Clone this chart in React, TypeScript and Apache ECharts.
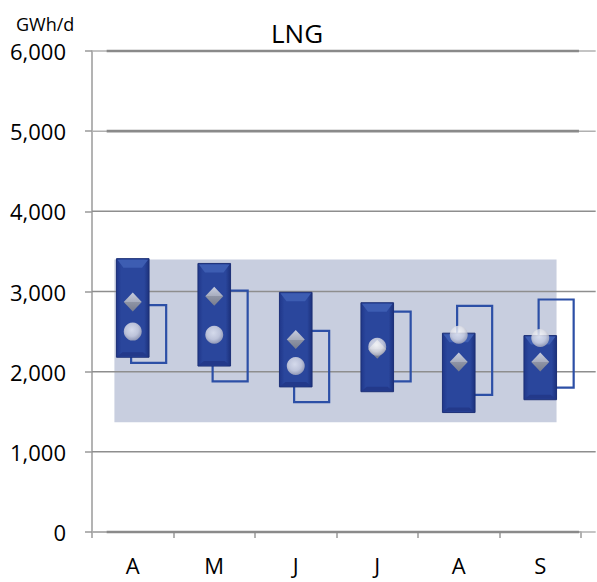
import React, { useEffect, useRef } from "react";
import * as echarts from "echarts";

const categories = ["A", "M", "J", "J", "A", "S"];
const yTicks = [0, 1000, 2000, 3000, 4000, 5000, 6000];
const heavyLines = [0, 5000, 6000];
const filledHigh = [3410, 3350, 2990, 2860, 2480, 2450];
const filledLow = [2180, 2070, 1810, 1750, 1490, 1650];
const outlineHigh = [2830, 3010, 2510, 2750, 2820, 2900];
const outlineLow = [2110, 1880, 1620, 1880, 1710, 1800];
const diamondValues = [2870, 2940, 2400, 2280, 2120, 2120];
const circleValues = [2500, 2460, 2070, 2310, 2460, 2420];
const bandRange = [1370, 3400];

const FONT = "'Open Sans', 'Noto Sans', sans-serif";

export default function App() {
  const ref = useRef<HTMLDivElement>(null);
  useEffect(() => {
    document.body.style.margin = "0";
    if (!ref.current) return;
    const chart = echarts.init(ref.current, null, { renderer: "svg" });
    const last = categories.length - 1;

    const option: any = {
      animation: false,
      backgroundColor: "#ffffff",
      title: [
        {
          text: "LNG",
          left: 266,
          top: 15,
          textStyle: { fontFamily: FONT, fontSize: 26, fontWeight: "normal", color: "#000" },
        },
        {
          text: "GWh/d",
          left: 11,
          top: 10,
          textStyle: { fontFamily: FONT, fontSize: 18, fontWeight: "normal", color: "#000" },
        },
      ],
      grid: { left: 92, right: 16, top: 51, bottom: 50, containLabel: false },
      xAxis: {
        type: "category",
        data: categories,
        boundaryGap: true,
        axisLine: { show: true, lineStyle: { color: "#9a9a9a", width: 1.5 } },
        axisTick: { show: true, length: 6, lineStyle: { color: "#9a9a9a", width: 1.5 } },
        axisLabel: { fontFamily: FONT, fontSize: 22, color: "#000", margin: 22 },
        splitLine: { show: false },
      },
      yAxis: {
        type: "value",
        min: 0,
        max: 6000,
        interval: 1000,
        axisLine: { show: true, lineStyle: { color: "#9a9a9a", width: 1.5 } },
        axisTick: { show: true, length: 7, lineStyle: { color: "#9a9a9a", width: 1.5 } },
        axisLabel: {
          fontFamily: FONT,
          fontSize: 22,
          color: "#000",
          margin: 26,
          formatter: (v: number) => v.toLocaleString("en-US"),
        },
        splitLine: { show: false },
      },
      series: [
        {
          type: "custom",
          name: "band",
          z: 1,
          clip: false,
          encode: { x: 0, y: 2 },
          data: [[0, last, bandRange[0], bandRange[1]]],
          renderItem: (params: any, api: any) => {
            const bw = api.size([1, 0])[0];
            const p1 = api.coord([api.value(0), api.value(3)]);
            const p2 = api.coord([api.value(1), api.value(2)]);
            const x = p1[0] - bw * 0.225;
            return {
              type: "rect",
              shape: { x, y: p1[1], width: p2[0] + bw * 0.2 - x, height: p2[1] - p1[1] },
              style: { fill: "#c8cedf" },
            };
          },
        },
        {
          type: "custom",
          name: "gridlines",
          z: 2,
          clip: false,
          encode: { x: 0, y: 1 },
          data: yTicks.map((v) => [0, v, heavyLines.includes(v) ? 1 : 0]),
          renderItem: (params: any, api: any) => {
            const v = api.value(1);
            const heavy = api.value(2) === 1;
            const bw = api.size([1, 0])[0];
            const c0 = api.coord([0, v]);
            const c5 = api.coord([last, v]);
            const children: any[] = [
              {
                type: "line",
                shape: { x1: c0[0] - bw / 2, y1: c0[1], x2: c5[0] + bw * 0.68, y2: c0[1] },
                style: { stroke: heavy ? "#b0b0b0" : "#8e8e8e", lineWidth: 1.5 },
              },
            ];
            if (heavy) {
              children.push({
                type: "line",
                shape: { x1: c0[0] - bw * 0.32, y1: c0[1], x2: c5[0] + bw * 0.475, y2: c0[1] },
                style: { stroke: "#8a8a8a", lineWidth: 2.6 },
              });
            }
            return { type: "group", children };
          },
        },
        {
          type: "custom",
          name: "outline",
          z: 3,
          encode: { x: 0, y: [1, 2] },
          data: categories.map((c, i) => [i, outlineHigh[i], outlineLow[i]]),
          renderItem: (params: any, api: any) => {
            const bw = api.size([1, 0])[0];
            const pt = api.coord([api.value(0), api.value(1)]);
            const pb = api.coord([api.value(0), api.value(2)]);
            const w = bw * 0.43;
            const cx = pt[0] + bw * 0.195;
            return {
              type: "rect",
              shape: { x: cx - w / 2, y: pt[1], width: w, height: pb[1] - pt[1] },
              style: { fill: "none", stroke: "#2c4fa6", lineWidth: 2.2 },
            };
          },
        },
        {
          type: "custom",
          name: "filled",
          z: 4,
          encode: { x: 0, y: [1, 2] },
          data: categories.map((c, i) => [i, filledHigh[i], filledLow[i]]),
          renderItem: (params: any, api: any) => {
            const bw = api.size([1, 0])[0];
            const pt = api.coord([api.value(0), api.value(1)]);
            const pb = api.coord([api.value(0), api.value(2)]);
            const w = bw * 0.4;
            const x = pt[0] - w / 2;
            const y = pt[1];
            const h = pb[1] - pt[1];
            return {
              type: "group",
              children: [
                {
                  type: "rect",
                  shape: { x, y, width: w, height: h },
                  style: {
                    fill: new echarts.graphic.LinearGradient(0, 0, 1, 0, [
                      { offset: 0, color: "#20378a" },
                      { offset: 0.15, color: "#2a469c" },
                      { offset: 0.85, color: "#2a469c" },
                      { offset: 1, color: "#1c317c" },
                    ]),
                    stroke: "#1d3077",
                    lineWidth: 1,
                  },
                },
                {
                  type: "polygon",
                  shape: {
                    points: [
                      [x + 1, y + 1],
                      [x + w - 1, y + 1],
                      [x + w - 7, y + 9],
                      [x + 7, y + 9],
                    ],
                  },
                  style: { fill: "#3d5db2" },
                },
                {
                  type: "polygon",
                  shape: {
                    points: [
                      [x + 6, y + h - 5],
                      [x + w - 6, y + h - 5],
                      [x + w - 1, y + h - 1],
                      [x + 1, y + h - 1],
                    ],
                  },
                  style: { fill: "#23398a" },
                },
              ],
            };
          },
        },
        {
          type: "scatter",
          name: "diamond",
          z: 5,
          symbol: "diamond",
          symbolSize: [18, 19],
          data: categories.map((c, i) => [i, diamondValues[i]]),
          itemStyle: {
            color: new echarts.graphic.LinearGradient(0, 0, 0, 1, [
              { offset: 0, color: "#eeeeee" },
              { offset: 0.5, color: "#c6c6c6" },
              { offset: 0.51, color: "#a8a8a8" },
              { offset: 1, color: "#8a8a8a" },
            ]),
          },
        },
        {
          type: "scatter",
          name: "circle",
          z: 6,
          symbol: "circle",
          symbolSize: 18,
          data: categories.map((c, i) => [i, circleValues[i]]),
          itemStyle: {
            color: new echarts.graphic.RadialGradient(0.45, 0.4, 0.6, [
              { offset: 0, color: "#ffffff" },
              { offset: 0.6, color: "#e2e3ea" },
              { offset: 1, color: "#a9acbd" },
            ]),
          },
        },
      ],
    };
    chart.setOption(option);
    return () => chart.dispose();
  }, []);
  return <div ref={ref} style={{ width: 597, height: 582 }} />;
}
